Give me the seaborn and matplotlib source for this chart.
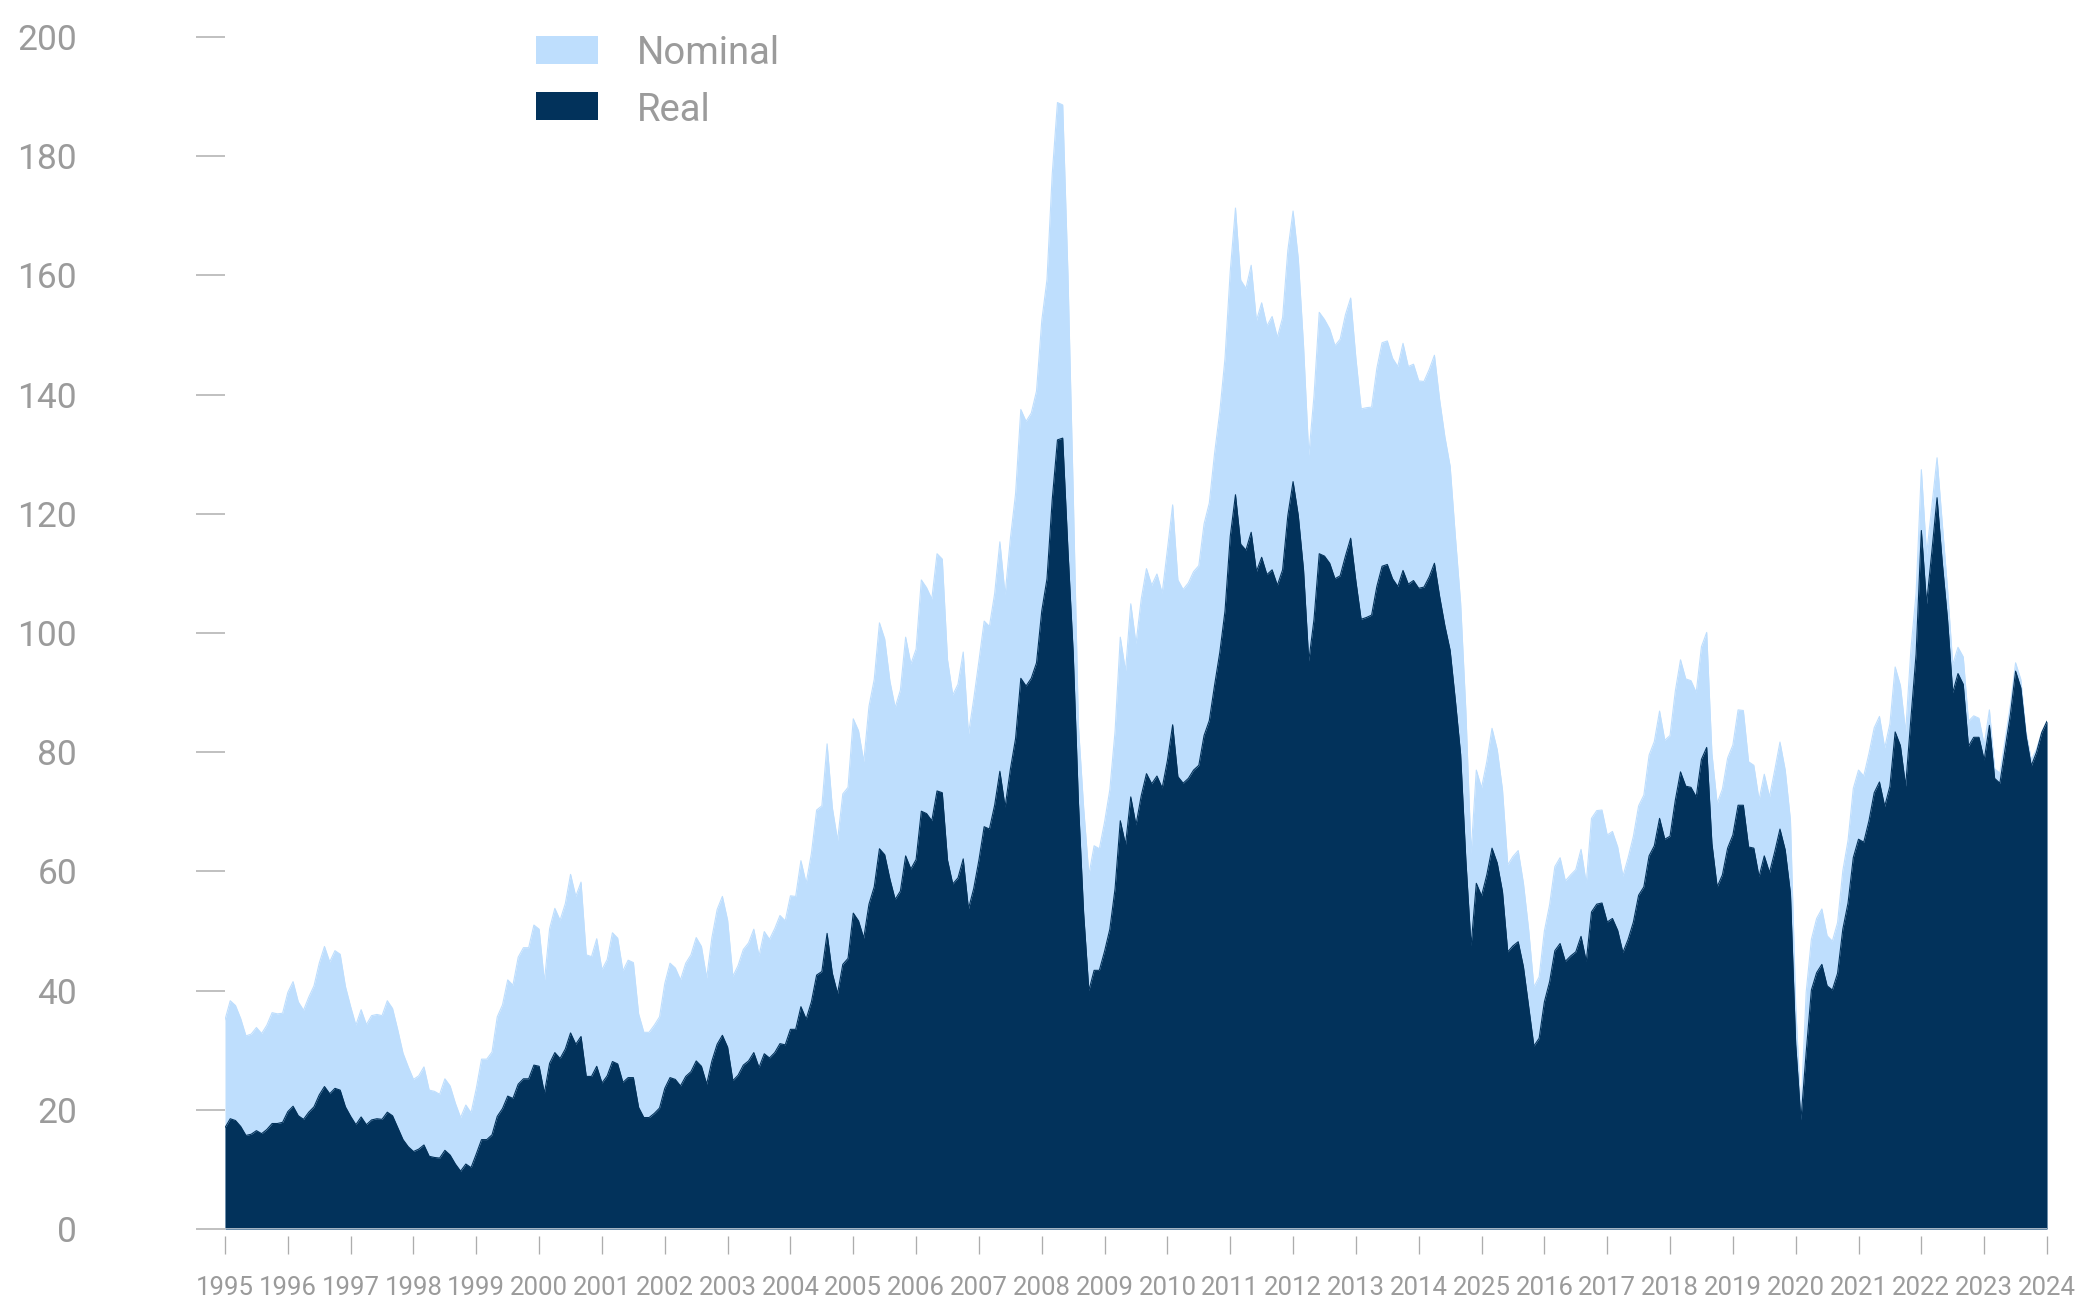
import matplotlib
matplotlib.use("Agg")
import matplotlib.pyplot as plt
import seaborn as sns
import numpy as np
import pandas as pd
from matplotlib.patches import Rectangle

# ---------------- data ----------------
year_labels = ["1995", "1996", "1997", "1998", "1999", "2000", "2001", "2002",
               "2003", "2004", "2005", "2006", "2007", "2008", "2009", "2010",
               "2011", "2012", "2013", "2014", "2025", "2016", "2017", "2018",
               "2019", "2020", "2021", "2022", "2023", "2024"]
y_ticks = [0, 20, 40, 60, 80, 100, 120, 140, 160, 180, 200]
series_names = ["Nominal", "Real"]

# monthly values, Jan 1995 .. Jan 2024
nominal = [
    35.1, 38.3, 37.5, 35.3, 32.4, 32.7, 33.8, 32.8, 34.2, 36.3, 36.1, 36.2,
    39.7, 41.5, 38.1, 36.7, 38.9, 40.8, 44.6, 47.4, 44.8, 46.7, 46.1, 40.7,
    37.3, 34.2, 36.8, 34.3, 35.8, 36.0, 35.8, 38.3, 37.0, 33.4, 29.5, 27.2,
    25.1, 25.7, 27.2, 23.3, 23.1, 22.6, 25.2, 24.0, 21.1, 18.7, 20.8, 19.5,
    23.6, 28.5, 28.5, 29.7, 35.6, 37.6, 41.8, 40.9, 45.6, 47.2, 47.2, 51.0,
    50.3, 41.5, 50.4, 53.8, 51.8, 54.6, 59.5, 55.8, 58.2, 46.0, 45.7, 48.7,
    43.5, 45.2, 49.7, 48.8, 43.3, 45.1, 44.7, 36.1, 33.0, 33.0, 34.2, 35.6,
    41.2, 44.6, 43.8, 41.8, 44.6, 46.0, 48.9, 47.4, 42.1, 48.9, 53.6, 55.8,
    51.8, 42.4, 44.2, 46.9, 48.0, 50.3, 45.8, 49.9, 48.6, 50.4, 52.6, 51.7,
    55.9, 55.8, 61.8, 58.0, 63.0, 70.3, 71.0, 81.4, 70.7, 65.2, 73.0, 74.1,
    85.6, 83.6, 78.4, 87.7, 92.2, 101.7, 99.0, 91.9, 87.5, 90.4, 99.3, 94.8,
    97.3, 108.9, 107.6, 105.7, 113.3, 112.4, 95.5, 89.6, 91.4, 96.8, 83.0, 88.9,
    95.3, 102.0, 101.1, 106.6, 115.3, 106.4, 115.8, 123.4, 137.5, 135.5, 136.9, 140.6,
    152.4, 159.3, 177.0, 189.0, 188.6, 160.3, 123.9, 84.5, 70.7, 59.4, 64.3, 63.8,
    68.3, 73.7, 83.5, 99.3, 93.6, 104.9, 98.2, 105.7, 110.8, 108.0, 109.9, 106.7,
    114.0, 121.5, 108.9, 107.3, 108.4, 110.3, 111.3, 118.3, 121.8, 130.1, 137.1, 146.1,
    160.7, 171.3, 159.2, 157.8, 161.7, 152.4, 155.4, 151.5, 153.1, 149.6, 152.9, 164.2,
    170.8, 162.8, 148.2, 129.8, 139.8, 153.8, 152.6, 151.0, 148.2, 149.3, 153.4, 156.2,
    146.1, 137.6, 137.8, 137.9, 144.4, 148.7, 149.0, 146.1, 144.7, 148.6, 144.7, 145.1,
    142.3, 142.2, 144.2, 146.6, 139.1, 132.9, 128.0, 116.2, 105.1, 87.0, 63.0, 77.0,
    74.0, 78.4, 84.0, 80.4, 73.7, 61.1, 62.5, 63.5, 58.0, 50.2, 40.6, 42.3,
    50.0, 54.4, 60.8, 62.3, 58.4, 59.4, 60.3, 63.7, 58.0, 68.9, 70.2, 70.3,
    66.1, 66.7, 64.1, 59.2, 62.3, 65.9, 71.0, 72.8, 79.5, 81.8, 86.9, 82.0,
    82.8, 90.2, 95.5, 92.3, 92.0, 90.0, 97.7, 100.1, 79.8, 71.4, 73.8, 79.0,
    81.2, 87.1, 87.0, 78.4, 77.8, 72.0, 76.3, 72.5, 77.0, 81.7, 77.0, 68.6,
    37.6, 19.5, 39.7, 48.6, 52.1, 53.7, 49.2, 48.3, 51.4, 60.1, 65.2, 73.9,
    77.0, 76.0, 79.8, 84.1, 86.0, 80.7, 84.8, 94.3, 91.2, 83.4, 97.2, 106.7,
    127.4, 113.2, 121.2, 129.4, 118.3, 107.4, 94.7, 97.6, 96.0, 85.2, 86.1, 85.7,
    81.2, 87.1, 77.2, 76.5, 82.1, 87.9, 95.0, 92.2, 83.4, 78.7, 80.5, 83.4,
    85.2,
]

real = [
    17.0, 18.5, 18.2, 17.2, 15.7, 15.9, 16.5, 16.0, 16.7, 17.7, 17.7, 17.9,
    19.7, 20.6, 19.0, 18.4, 19.6, 20.5, 22.5, 23.9, 22.7, 23.6, 23.3, 20.5,
    18.9, 17.5, 18.8, 17.5, 18.3, 18.5, 18.4, 19.6, 19.0, 17.0, 15.0, 13.8,
    13.0, 13.4, 14.1, 12.2, 12.0, 11.9, 13.2, 12.4, 10.9, 9.7, 10.9, 10.3,
    12.6, 15.0, 15.0, 15.8, 18.9, 20.2, 22.3, 21.9, 24.3, 25.2, 25.2, 27.5,
    27.3, 22.8, 27.8, 29.6, 28.6, 30.2, 32.9, 31.0, 32.3, 25.6, 25.6, 27.3,
    24.5, 25.7, 28.1, 27.7, 24.6, 25.4, 25.4, 20.4, 18.7, 18.7, 19.4, 20.3,
    23.6, 25.4, 25.1, 24.0, 25.6, 26.4, 28.2, 27.3, 24.3, 28.2, 31.0, 32.5,
    30.5, 24.9, 25.8, 27.5, 28.2, 29.6, 27.1, 29.4, 28.7, 29.6, 31.1, 30.9,
    33.5, 33.5, 37.3, 35.2, 38.1, 42.6, 43.2, 49.6, 42.9, 39.5, 44.4, 45.4,
    53.0, 51.7, 48.8, 54.5, 57.4, 63.8, 62.8, 58.7, 55.3, 56.7, 62.6, 60.4,
    62.0, 70.1, 69.7, 68.5, 73.5, 73.2, 61.9, 57.9, 58.9, 62.1, 53.7, 57.1,
    61.9, 67.5, 67.1, 71.1, 76.8, 70.8, 77.1, 82.3, 92.4, 91.1, 92.4, 95.0,
    103.7, 109.1, 122.4, 132.4, 132.7, 114.0, 96.8, 71.7, 53.0, 40.0, 43.4, 43.4,
    46.6, 50.3, 57.1, 68.5, 64.5, 72.5, 67.8, 72.7, 76.4, 74.7, 76.0, 74.0,
    78.6, 84.6, 75.9, 74.8, 75.6, 77.0, 77.8, 82.8, 85.3, 91.2, 96.7, 103.7,
    116.2, 123.2, 114.9, 113.9, 116.9, 110.3, 112.7, 109.8, 110.6, 108.0, 110.6, 119.7,
    125.4, 119.7, 110.6, 95.3, 102.3, 113.3, 112.9, 111.7, 109.1, 109.6, 112.9, 115.9,
    108.7, 102.3, 102.6, 103.0, 107.8, 111.2, 111.5, 109.1, 107.8, 110.5, 108.2, 108.8,
    107.5, 107.7, 109.4, 111.7, 106.1, 101.2, 97.1, 88.7, 79.7, 62.0, 47.5, 58.0,
    55.9, 59.4, 63.9, 61.4, 56.6, 46.5, 47.5, 48.2, 44.0, 37.3, 30.7, 32.0,
    38.1, 41.5, 46.7, 47.9, 44.9, 45.8, 46.5, 49.1, 44.9, 53.2, 54.5, 54.7,
    51.5, 52.1, 50.1, 46.4, 48.6, 51.5, 56.0, 57.4, 62.6, 64.3, 68.9, 65.4,
    65.9, 71.9, 76.7, 74.3, 74.1, 72.5, 78.8, 80.8, 64.7, 57.4, 59.4, 63.9,
    66.1, 71.1, 71.1, 64.1, 63.9, 59.1, 62.6, 59.8, 63.3, 67.1, 63.6, 56.3,
    31.0, 18.3, 29.6, 40.1, 43.0, 44.4, 40.8, 40.1, 42.9, 50.3, 54.7, 62.3,
    65.4, 64.9, 68.5, 73.2, 75.0, 70.9, 74.3, 83.4, 81.1, 74.3, 85.6, 96.5,
    117.2, 104.9, 113.6, 122.7, 111.8, 102.3, 90.0, 93.2, 91.4, 81.0, 82.5, 82.5,
    78.7, 84.5, 75.6, 74.8, 80.5, 86.3, 93.6, 90.8, 82.7, 77.7, 80.0, 83.3,
    85.2,
]

# ---------------- style ----------------
sns.set_theme(style="white")
plt.rcParams['font.family'] = ['Roboto', 'DejaVu Sans']

LIGHT = "#bedefd"
NAVY = "#02325b"
GRAY_TXT = "#9b9b9b"
GRAY_TICK = "#adadad"

W, H = 2077, 1297
PX = 72 / 100.0  # points per pixel at dpi 100

fig = plt.figure(figsize=(W / 100, H / 100), dpi=100)
ax = fig.add_axes([225 / W, (H - 1229) / H, (2047 - 225) / W, (1229 - 37) / H])

df = pd.DataFrame({
    "year": 1995 + np.arange(len(nominal)) / 12.0,
    "Nominal": nominal,
    "Real": real,
})

ax.fill_between(df["year"], df["Nominal"], 0, color=LIGHT, lw=0, zorder=1)
sns.lineplot(data=df, x="year", y="Nominal", ax=ax, color=LIGHT, lw=0.8, zorder=1.5)
ax.fill_between(df["year"], df["Real"], 0, color=NAVY, lw=0, zorder=2)
sns.lineplot(data=df, x="year", y="Real", ax=ax, color=NAVY, lw=0.8, zorder=2.5)

ax.set_xlim(1995, 2024)
ax.set_ylim(0, 200)
ax.set_xlabel("")
ax.set_ylabel("")

for s in ax.spines.values():
    s.set_visible(False)
ax.spines['bottom'].set_position(('outward', 7 * PX))
ax.axhline(0, color="#c3ccd6", lw=1.2 * PX * 1.4, zorder=3)

ax.set_xticks(list(range(1995, 2025)))
ax.set_xticklabels(year_labels)
ax.set_yticks(y_ticks)
ax.set_yticklabels([str(v) for v in y_ticks])

ax.tick_params(axis='x', direction='out', length=18 * PX, width=1.3 * PX,
               color=GRAY_TICK, pad=22 * PX, labelsize=18.5, labelcolor=GRAY_TXT,
               bottom=True)
ax.tick_params(axis='y', direction='out', length=29 * PX, width=1.5 * PX,
               color=GRAY_TICK, pad=119 * PX, labelsize=25.5, labelcolor=GRAY_TXT,
               left=True)
ax.grid(False)

# legend (manual, figure pixel layout)
leg_items = [(series_names[0], LIGHT, 36, 64), (series_names[1], NAVY, 92, 121)]
for name, col, top, base in leg_items:
    fig.add_artist(Rectangle((536 / W, (H - (top + 28)) / H), 62 / W, 28 / H,
                             transform=fig.transFigure, color=col, lw=0))
    fig.text(637 / W, (H - base) / H, name, fontsize=27.5, color=GRAY_TXT,
             ha='left', va='baseline')

fig.savefig("out.png", dpi=100)
